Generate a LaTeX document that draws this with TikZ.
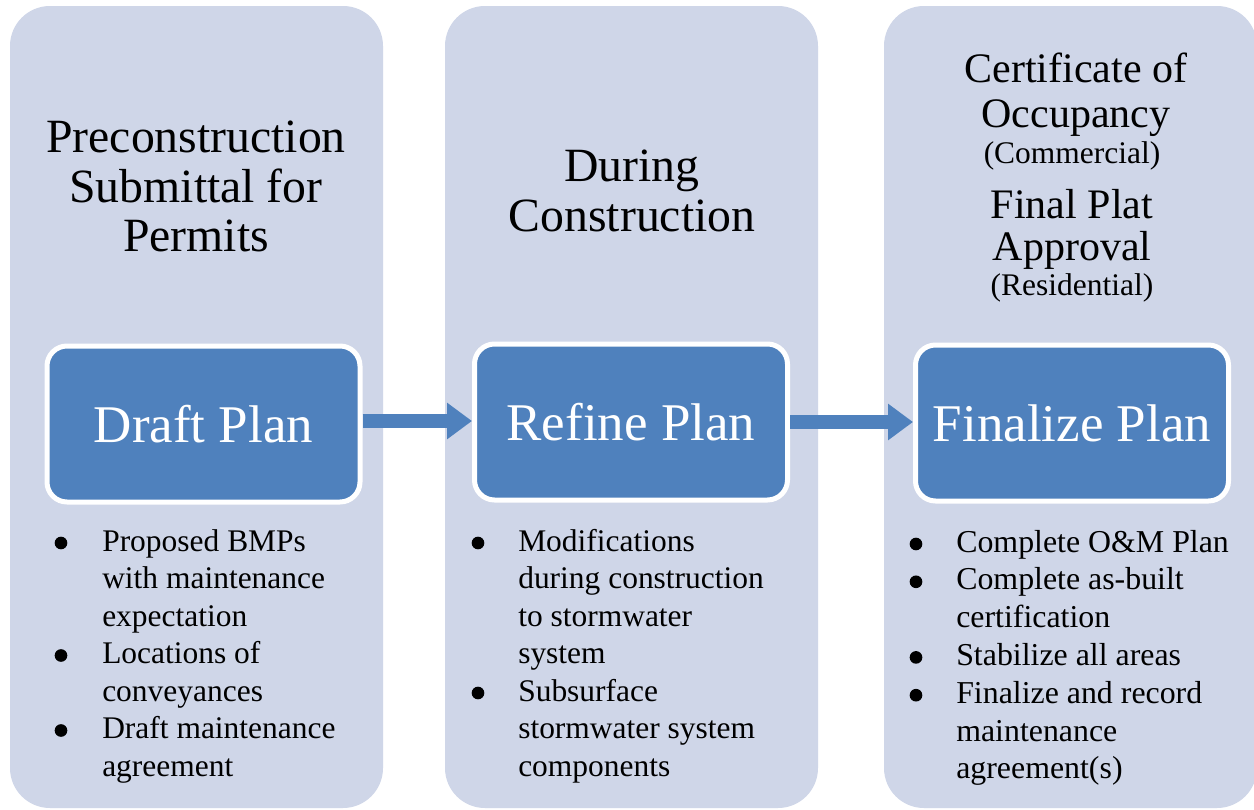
\documentclass[tikz,border=0pt]{standalone}
\usepackage{fontspec}
\setmainfont{Liberation Serif}
\usetikzlibrary{arrows.meta}
\definecolor{colfill}{RGB}{207,214,232}
\definecolor{boxblue}{RGB}{79,129,189}
\begin{document}
\begin{tikzpicture}[x=0.75pt,y=-0.75pt,
  column/.style={fill=colfill, rounded corners=30pt},
  stagebox/.style={draw=white, line width=3.75pt, fill=boxblue, rounded corners=15pt,
    minimum width=234.75pt, minimum height=117pt, text=white,
    font=\fontsize{39.75pt}{45pt}\selectfont, inner sep=0pt},
  title/.style={anchor=base, inner sep=0pt, font=\fontsize{35.8pt}{37.5pt}\selectfont},
  ctitle/.style={anchor=base, inner sep=0pt, font=\fontsize{31.5pt}{34pt}\selectfont},
  subtitle/.style={anchor=base, inner sep=0pt, font=\fontsize{23.6pt}{26pt}\selectfont},
  itemline/.style={anchor=base west, inner sep=0pt, font=\fontsize{23.6pt}{28pt}\selectfont},
  itemlinec/.style={anchor=base west, inner sep=0pt, font=\fontsize{23.9pt}{28pt}\selectfont},
  itemdot/.style={circle, fill=black, inner sep=0pt, minimum size=9.5pt},
  flow/.style={draw=boxblue, line width=10.5pt, -{Triangle[length=18.75pt,width=26.25pt]}}
]
\useasboundingbox (0,0) rectangle (1254,810);
\fill[white] (0,0) rectangle (1254,810);

% columns
\fill[column] (10,6) rectangle (383,808);
\fill[column] (445,6) rectangle (818,808);
\fill[column] (884,6) rectangle (1257,808);

% titles column 1
\node[title] (t1a) at (196,152) {Preconstruction};
\node[title] (t1b) at (196,202) {Submittal for};
\node[title] (t1c) at (196,251) {Permits};
% titles column 2
\node[title] (t2a) at (632,181) {During};
\node[title] (t2b) at (632,231) {Construction};
% titles column 3
\node[ctitle] (t3a) at (1076,82) {Certificate of};
\node[ctitle] (t3b) at (1076,127) {Occupancy};
\node[subtitle] (t3c) at (1072,163) {(Commercial)};
\node[ctitle] (t3d) at (1072,218) {Final Plat};
\node[ctitle] (t3e) at (1072,260) {Approval};
\node[subtitle] (t3f) at (1072,295) {(Residential)};

% stage boxes
\node[stagebox] (draft) at (203.5,424) {Draft Plan};
\node[stagebox] (refine) at (631,422) {Refine Plan};
\node[stagebox] (final) at (1072,423) {Finalize Plan};

% arrows
\draw[flow] ([yshift=2.25pt]draft.east) -- ([yshift=2.25pt]draft.east -| refine.west);
\draw[flow] (refine.east) -- (refine.east -| final.west);

% bullets column 1
\foreach \t [count=\i] in {Proposed BMPs, with maintenance, expectation, Locations of, conveyances, Draft maintenance, agreement}
  \node[itemline] (a\i) at (102,{551+37.5*(\i-1)}) {\t};
\foreach \i in {1,4,6}
  \node[itemdot] (ad\i) at (61,{543+37.5*(\i-1)}) {};

% bullets column 2
\foreach \t [count=\i] in {Modifications, during construction, to stormwater, system, Subsurface, stormwater system, components}
  \node[itemline] (b\i) at (518,{551+37.5*(\i-1)}) {\t};
\foreach \i in {1,5}
  \node[itemdot] (bd\i) at (478,{543+37.5*(\i-1)}) {};

% bullets column 3
\foreach \t [count=\i] in {Complete O\&M Plan, Complete as-built, certification, Stabilize all areas, Finalize and record, maintenance, {agreement(s)}}
  \node[itemlinec] (c\i) at (956,{552+37.8*(\i-1)}) {\t};
\foreach \i in {1,2,4,5}
  \node[itemdot] (cd\i) at (916,{544+37.8*(\i-1)}) {};
\end{tikzpicture}
\end{document}
